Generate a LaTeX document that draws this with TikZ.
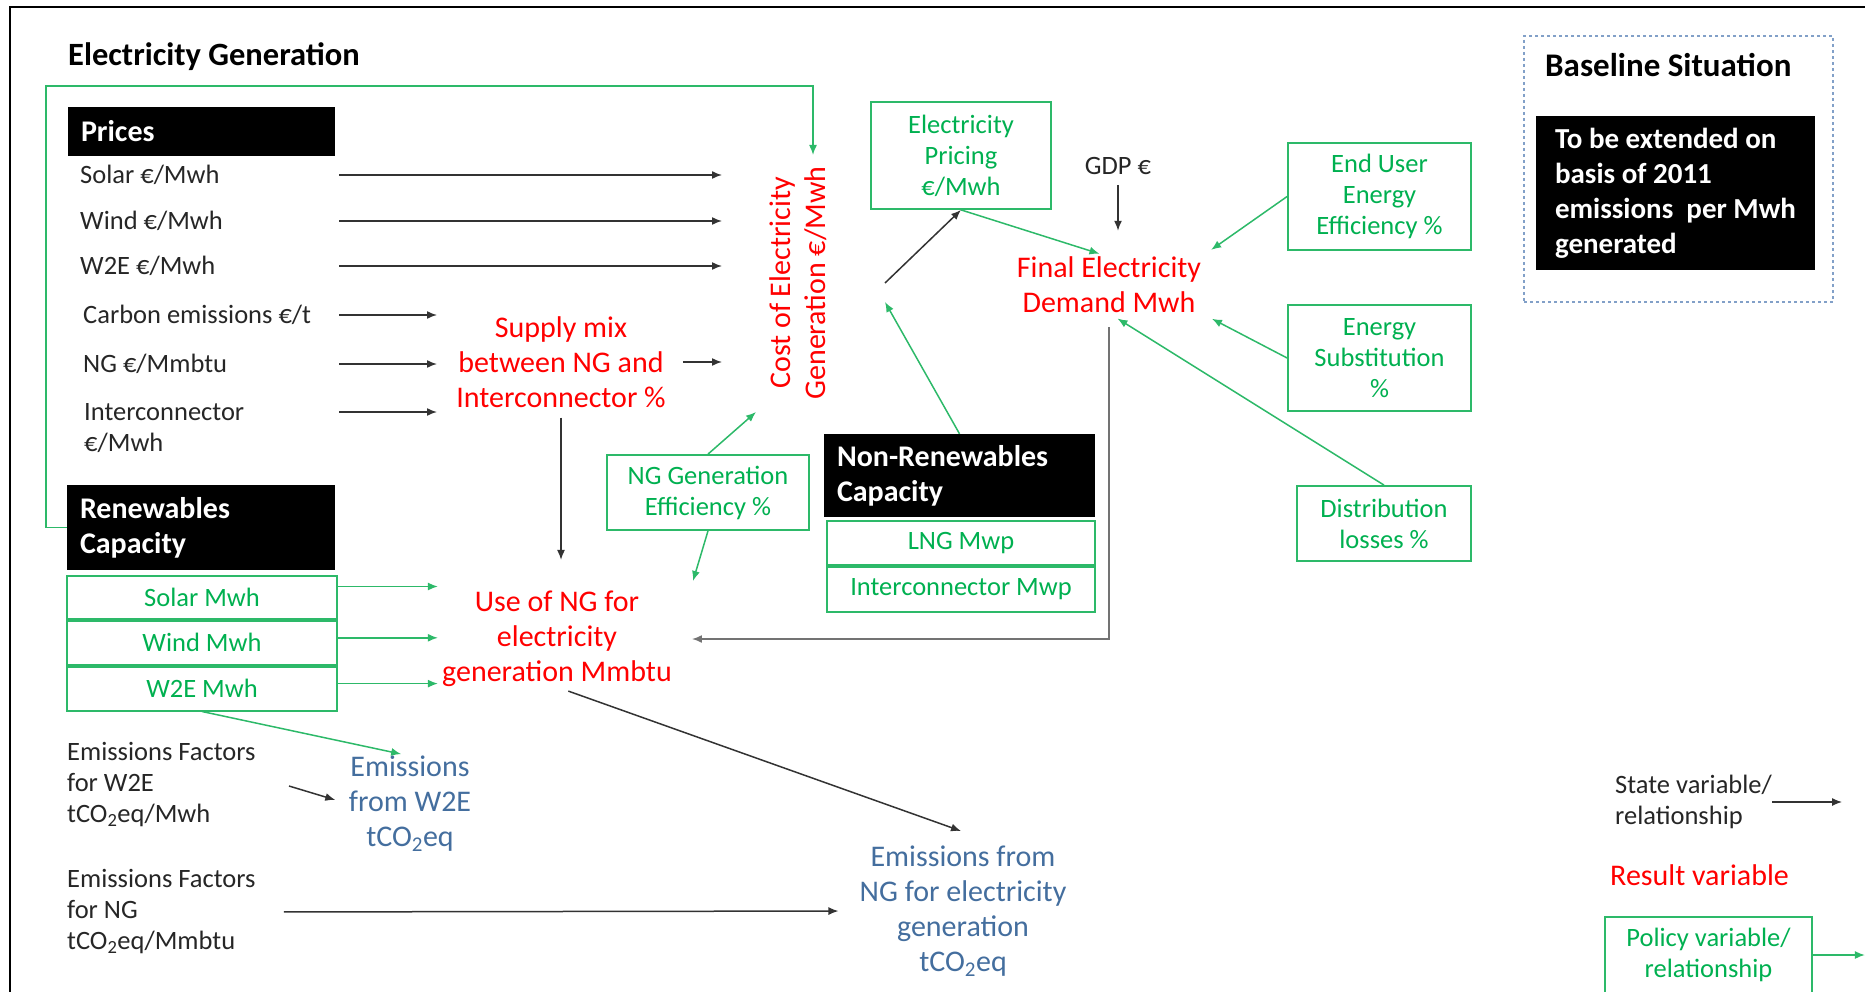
\documentclass[tikz,border=0pt]{standalone}
\usepackage{fontspec}
\setmainfont{Carlito}
\usetikzlibrary{arrows.meta,positioning}

\definecolor{polgreen}{RGB}{0,176,80}
\definecolor{polline}{RGB}{45,185,105}
\definecolor{resred}{RGB}{255,0,0}
\definecolor{emblue}{RGB}{68,110,158}
\definecolor{dashblue}{RGB}{130,160,200}

\tikzset{
  lbl/.style={anchor=west, align=left, inner sep=0pt, text=black!85,
    font=\fontsize{26.5}{31}\selectfont},
  res/.style={align=center, inner sep=0pt, text=resred,
    font=\fontsize{30}{35}\selectfont},
  emis/.style={align=center, inner sep=0pt, text=emblue,
    font=\fontsize{30}{35}\selectfont},
  polbox/.style={draw=polline, line width=1.8pt, text=polgreen, align=center,
    inner sep=0pt, font=\fontsize{26.5}{31}\selectfont},
  hdrbox/.style={fill=black, text=white, align=left, inner xsep=13pt, inner ysep=0pt,
    font=\bfseries\fontsize{30}{35}\selectfont},
  arr/.style={-{Latex[length=10pt,width=8pt]}, line width=1.5pt, black!80},
  parr/.style={arr, polline},
}

\begin{document}
\begin{tikzpicture}[x=1pt,y=-1pt]
\useasboundingbox (0,0) rectangle (1865,992);
\draw[line width=2pt] (10,7) rectangle (1900,1030);
\node[lbl, text=black, font=\bfseries\fontsize{32.5}{38}\selectfont] (title) at (68,57) {Electricity Generation};

% prices
\node[hdrbox, text width=241pt, minimum height=49pt] (prices) at (201.5,131.5) {Prices};
\node[lbl] (solarp) at (80,175) {Solar €/Mwh};
\node[lbl] (windp) at (80,221) {Wind €/Mwh};
\node[lbl] (w2ep) at (80,266) {W2E €/Mwh};
\node[lbl] (carbonp) at (83,315) {Carbon emissions €/t};
\node[lbl] (ngp) at (83,364) {NG €/Mmbtu};
\node[lbl] (interp) at (84,428) {Interconnector\\€/Mwh};

% results
\node[res] (supply) at (561,362) {Supply mix\\between NG and\\Interconnector \%};
\node[res, rotate=90] (cost) at (798,283) {Cost of Electricity\\Generation €/Mwh};
\node[res] (usegen) at (557,639) {Use of NG for\\electricity\\generation Mmbtu};
\node[res] (demand) at (1109,285) {Final Electricity\\Demand Mwh};
\node[lbl, anchor=center] (gdp) at (1118,166) {GDP €};

% renewables
\node[hdrbox, text width=242pt, minimum height=85pt] (renew) at (201,527.5) {Renewables\\Capacity};
\node[polbox, minimum width=270pt, minimum height=43pt] (solarb) at (202,597.5) {Solar Mwh};
\node[polbox, minimum width=270pt, minimum height=44pt, below=0pt of solarb] (windb) {Wind Mwh};
\node[polbox, minimum width=270pt, minimum height=44pt, below=0pt of windb] (w2eb) {W2E Mwh};

% non renewables
\node[hdrbox, text width=245pt, minimum height=83pt] (nonren) at (959.5,475.5) {Non-Renewables\\Capacity};
\node[polbox, minimum width=268pt, minimum height=44pt] (lng) at (961,543) {LNG Mwp};
\node[polbox, minimum width=268pt, minimum height=45pt, below=0pt of lng] (intercap) {Interconnector Mwp};

% policy boxes
\node[polbox, minimum width=202pt, minimum height=75pt] (ngeff) at (708,492.5) {NG Generation\\Efficiency \%};
\node[polbox, minimum width=180pt, minimum height=107pt] (pricing) at (961,155.5) {Electricity\\Pricing\\€/Mwh};
\node[polbox, minimum width=183pt, minimum height=107pt] (enduser) at (1379.5,196.5) {End User\\Energy\\Efficiency \%};
\node[polbox, minimum width=183pt, minimum height=106pt] (subst) at (1379.5,358) {Energy\\Substitution\\\%};
\node[polbox, minimum width=174pt, minimum height=75pt] (distrib) at (1384,523.5) {Distribution\\losses \%};

% emissions
\node[lbl] (efw2e) at (67,785) {Emissions Factors\\for W2E\\tCO\textsubscript{2}eq/Mwh};
\node[lbl] (efng) at (67,912) {Emissions Factors\\for NG\\tCO\textsubscript{2}eq/Mmbtu};
\node[emis] (emw2e) at (410,804) {Emissions\\from W2E\\tCO\textsubscript{2}eq};
\node[emis] (emng) at (963,911) {Emissions from\\NG for electricity\\generation\\tCO\textsubscript{2}eq};

% baseline
\node[draw=dashblue, dashed, line width=1.3pt, minimum width=309pt, minimum height=266pt] (baseline) at (1678.5,169) {};
\node[lbl, text=black, font=\bfseries\fontsize{33}{40}\selectfont] (basetitle) at (1545,65) {Baseline Situation};
\node[hdrbox, minimum width=279pt, minimum height=154pt, font=\bfseries\fontsize{29}{35}\selectfont] (extend) at (1675.5,193) {To be extended on\\basis of 2011\\emissions\ \ per Mwh\\generated};

% legend
\node[lbl] (statelg) at (1615,802) {State variable/\\relationship};
\node[lbl, text=resred, font=\fontsize{30}{35}\selectfont] (resultlg) at (1610,875) {Result variable};
\node[polbox, minimum width=207pt, minimum height=76pt] (policylg) at (1708.5,955) {Policy variable/\\relationship};

% free arrow ends
\coordinate (fromP) at (339,0);
\coordinate (toCost) at (722,0);
\coordinate (toMix) at (437,0);
\coordinate (interout) at (339,412);
\coordinate (costout) at (885,283);
\coordinate (costin) at (885,302);
\coordinate (costeff) at (756,412);
\coordinate (useeff) at (693,581);
\coordinate (efw2eout) at (289,786);
\coordinate (emngin) at (961,831);
\coordinate (fbtop) at (813,86);

% state variable arrows
\foreach \p in {solarp,windp,w2ep}
  \draw[arr] (fromP |- \p) -- (toCost |- \p);
\foreach \p in {carbonp,ngp}
  \draw[arr] (fromP |- \p) -- (toMix |- \p);
\draw[arr] (interout) -- (toMix |- interout);
\draw[arr, shorten <=17pt] (supply.east) -- (toCost |- supply);
\draw[arr, shorten <=10pt, shorten >=31pt] (supply.south) -- (supply.south |- usegen.north);
\draw[arr] (costout) -- (pricing.south);
\draw[arr, shorten <=10pt, shorten >=26pt] (gdp.south) -- (gdp.south |- demand.north);
\draw[arr, black!55, shorten <=14pt, shorten >=20pt] (demand.south) |- (usegen.east);
\draw[arr, shorten >=14pt] (efw2eout) -- (emw2e.west);
\draw[arr, shorten <=28pt, shorten >=21pt] (efng.east) -- (emng.west);
\draw[arr, shorten <=12pt] (usegen.south) -- (emngin);
\draw[arr] (statelg.east) -- ++(70,0);

% policy arrows
\draw[parr] (renew.west) -- ++(-21,0) |- (fbtop) -- ++(0,69);
\draw[parr] ([yshift=11pt]solarb.east) -- +(100,0);
\draw[parr] ([yshift=5pt]windb.east) -- +(100,0);
\draw[parr] ([yshift=5pt]w2eb.east) -- +(100,0);
\draw[parr, shorten >=9pt] (w2eb.south) -- (emw2e.north);
\draw[parr] (ngeff.north) -- (costeff);
\draw[parr] (ngeff.south) -- (useeff);
\draw[parr] (nonren.north) -- (costin);
\draw[parr, shorten >=10pt] (pricing.south) -- (demand.north);
\draw[parr, shorten >=12pt] (enduser.west) -- (demand.north east);
\draw[parr, shorten >=12pt] (subst.west) -- (demand.south east);
\draw[parr, shorten >=10pt] (distrib.north) -- (demand.south);
\draw[parr] (policylg.east) -- ++(52,0);
\end{tikzpicture}
\end{document}
